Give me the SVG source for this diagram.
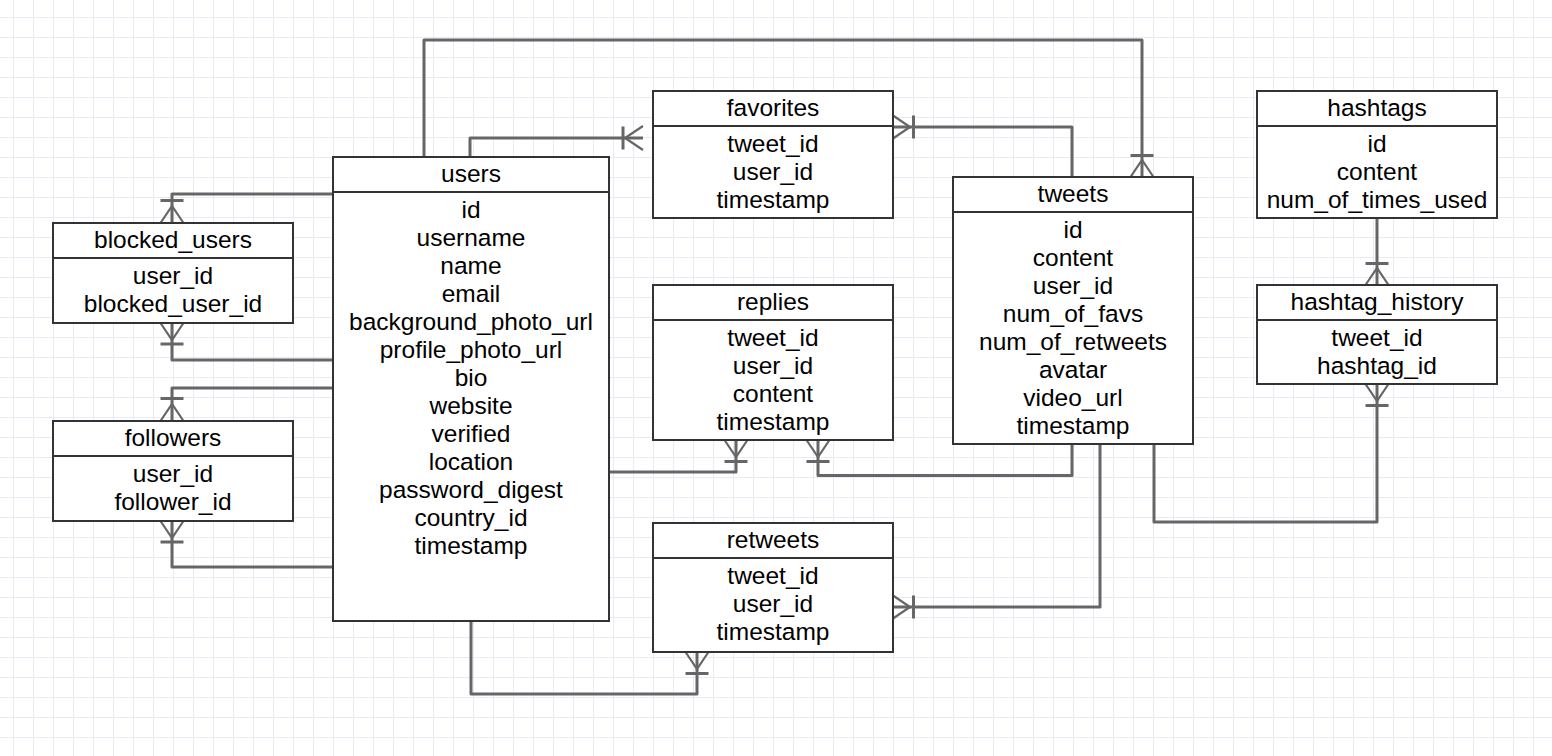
<svg xmlns="http://www.w3.org/2000/svg" width="1552" height="756" viewBox="0 0 1552 756">
<defs>
<pattern id="grid" x="13" y="17" width="20" height="20" patternUnits="userSpaceOnUse">
<path d="M0 0.5H20M0.5 0V20" fill="none" stroke="#eaeaf7" stroke-width="1"/>
</pattern>
<style>
.box{fill:#fff;stroke:#333;stroke-width:2}
.sep{stroke:#333;stroke-width:2}
.t{font-family:"Liberation Sans",Arial,Helvetica,sans-serif;font-size:24.5px;fill:#000;text-anchor:middle}
.c{fill:none;stroke:#666;stroke-width:3;stroke-linejoin:round}
.f{fill:none;stroke:#666;stroke-width:2.2}
.b{fill:none;stroke:#666;stroke-width:3}
</style>
</defs>
<rect width="1552" height="756" fill="#fff"/>
<rect width="1552" height="756" fill="url(#grid)"/>

<g id="connectors">
<!-- users -> tweets -->
<path class="c" d="M424 157V40H1142V177"/>
<path class="f" d="M1130.5 177L1142 160L1153.5 177"/>
<path class="b" d="M1130.5 155.5H1153.5"/>
<!-- users -> favorites -->
<path class="c" d="M470 157V138H643"/>
<path class="f" d="M643 126L625 138L643 150"/>
<path class="b" d="M623 126.5V149.5"/>
<!-- tweets -> favorites -->
<path class="c" d="M1072 177V127H893"/>
<path class="f" d="M893 115.5L910 127L893 138.5"/>
<path class="b" d="M913.5 115.5V138.5"/>
<!-- users -> replies -->
<path class="c" d="M609 472H736V440"/>
<path class="f" d="M724.5 440L736 457L747.5 440"/>
<path class="b" d="M724.5 461.5H747.5"/>
<!-- tweets -> replies -->
<path class="c" d="M1072 444V475.5H818V440"/>
<path class="f" d="M806.5 440L818 457L829.5 440"/>
<path class="b" d="M806.5 461.5H829.5"/>
<!-- tweets -> retweets -->
<path class="c" d="M1100 444V607H893"/>
<path class="f" d="M893 595.5L910 607L893 618.5"/>
<path class="b" d="M913.5 595.5V618.5"/>
<!-- users -> retweets -->
<path class="c" d="M471 621V694H697V652"/>
<path class="f" d="M685.5 652L697 669L708.5 652"/>
<path class="b" d="M685.5 673.5H708.5"/>
<!-- tweets -> hashtag_history -->
<path class="c" d="M1154 444V522H1377V384"/>
<path class="f" d="M1365.5 384L1377 401L1388.5 384"/>
<path class="b" d="M1365.5 405.5H1388.5"/>
<!-- hashtags -> hashtag_history -->
<path class="c" d="M1377 218V285"/>
<path class="f" d="M1365.5 285L1377 268L1388.5 285"/>
<path class="b" d="M1365.5 263.5H1388.5"/>
<!-- users -> blocked_users -->
<path class="c" d="M333 194H172V223"/>
<path class="f" d="M160.5 223L172 206L183.5 223"/>
<path class="b" d="M160.5 200.5H183.5"/>
<path class="c" d="M333 360H172V323"/>
<path class="f" d="M160.5 323L172 340L183.5 323"/>
<path class="b" d="M160.5 344H183.5"/>
<!-- users -> followers -->
<path class="c" d="M333 388H172V421"/>
<path class="f" d="M160.5 421L172 404L183.5 421"/>
<path class="b" d="M160.5 398.5H183.5"/>
<path class="c" d="M333 567H172V521"/>
<path class="f" d="M160.5 521L172 538L183.5 521"/>
<path class="b" d="M160.5 542H183.5"/>
</g>

<g id="users">
<rect class="box" x="333" y="157" width="276" height="464"/>
<line class="sep" x1="333" y1="192" x2="609" y2="192"/>
<text class="t" x="471" y="182">users</text>
<text class="t" x="471" y="218">id</text>
<text class="t" x="471" y="246">username</text>
<text class="t" x="471" y="274">name</text>
<text class="t" x="471" y="302">email</text>
<text class="t" x="471" y="330">background_photo_url</text>
<text class="t" x="471" y="358">profile_photo_url</text>
<text class="t" x="471" y="386">bio</text>
<text class="t" x="471" y="414">website</text>
<text class="t" x="471" y="442">verified</text>
<text class="t" x="471" y="470">location</text>
<text class="t" x="471" y="498">password_digest</text>
<text class="t" x="471" y="526">country_id</text>
<text class="t" x="471" y="554">timestamp</text>
</g>

<g id="favorites">
<rect class="box" x="653" y="91" width="240" height="127"/>
<line class="sep" x1="653" y1="126" x2="893" y2="126"/>
<text class="t" x="773" y="116">favorites</text>
<text class="t" x="773" y="152">tweet_id</text>
<text class="t" x="773" y="180">user_id</text>
<text class="t" x="773" y="208">timestamp</text>
</g>

<g id="replies">
<rect class="box" x="653" y="285" width="240" height="155"/>
<line class="sep" x1="653" y1="320" x2="893" y2="320"/>
<text class="t" x="773" y="310">replies</text>
<text class="t" x="773" y="346">tweet_id</text>
<text class="t" x="773" y="374">user_id</text>
<text class="t" x="773" y="402">content</text>
<text class="t" x="773" y="430">timestamp</text>
</g>

<g id="retweets">
<rect class="box" x="653" y="523" width="240" height="129"/>
<line class="sep" x1="653" y1="558" x2="893" y2="558"/>
<text class="t" x="773" y="548">retweets</text>
<text class="t" x="773" y="584">tweet_id</text>
<text class="t" x="773" y="612">user_id</text>
<text class="t" x="773" y="640">timestamp</text>
</g>

<g id="tweets">
<rect class="box" x="953" y="177" width="240" height="267"/>
<line class="sep" x1="953" y1="212" x2="1193" y2="212"/>
<text class="t" x="1073" y="202">tweets</text>
<text class="t" x="1073" y="238">id</text>
<text class="t" x="1073" y="266">content</text>
<text class="t" x="1073" y="294">user_id</text>
<text class="t" x="1073" y="322">num_of_favs</text>
<text class="t" x="1073" y="350">num_of_retweets</text>
<text class="t" x="1073" y="378">avatar</text>
<text class="t" x="1073" y="406">video_url</text>
<text class="t" x="1073" y="434">timestamp</text>
</g>

<g id="hashtags">
<rect class="box" x="1257" y="91" width="240" height="127"/>
<line class="sep" x1="1257" y1="126" x2="1497" y2="126"/>
<text class="t" x="1377" y="116">hashtags</text>
<text class="t" x="1377" y="152">id</text>
<text class="t" x="1377" y="180">content</text>
<text class="t" x="1377" y="208">num_of_times_used</text>
</g>

<g id="hashtag_history">
<rect class="box" x="1257" y="285" width="240" height="99"/>
<line class="sep" x1="1257" y1="320" x2="1497" y2="320"/>
<text class="t" x="1377" y="310">hashtag_history</text>
<text class="t" x="1377" y="346">tweet_id</text>
<text class="t" x="1377" y="374">hashtag_id</text>
</g>

<g id="blocked_users">
<rect class="box" x="53" y="223" width="240" height="100"/>
<line class="sep" x1="53" y1="258" x2="293" y2="258"/>
<text class="t" x="173" y="248">blocked_users</text>
<text class="t" x="173" y="284">user_id</text>
<text class="t" x="173" y="312">blocked_user_id</text>
</g>

<g id="followers">
<rect class="box" x="53" y="421" width="240" height="100"/>
<line class="sep" x1="53" y1="456" x2="293" y2="456"/>
<text class="t" x="173" y="446">followers</text>
<text class="t" x="173" y="482">user_id</text>
<text class="t" x="173" y="510">follower_id</text>
</g>
</svg>
